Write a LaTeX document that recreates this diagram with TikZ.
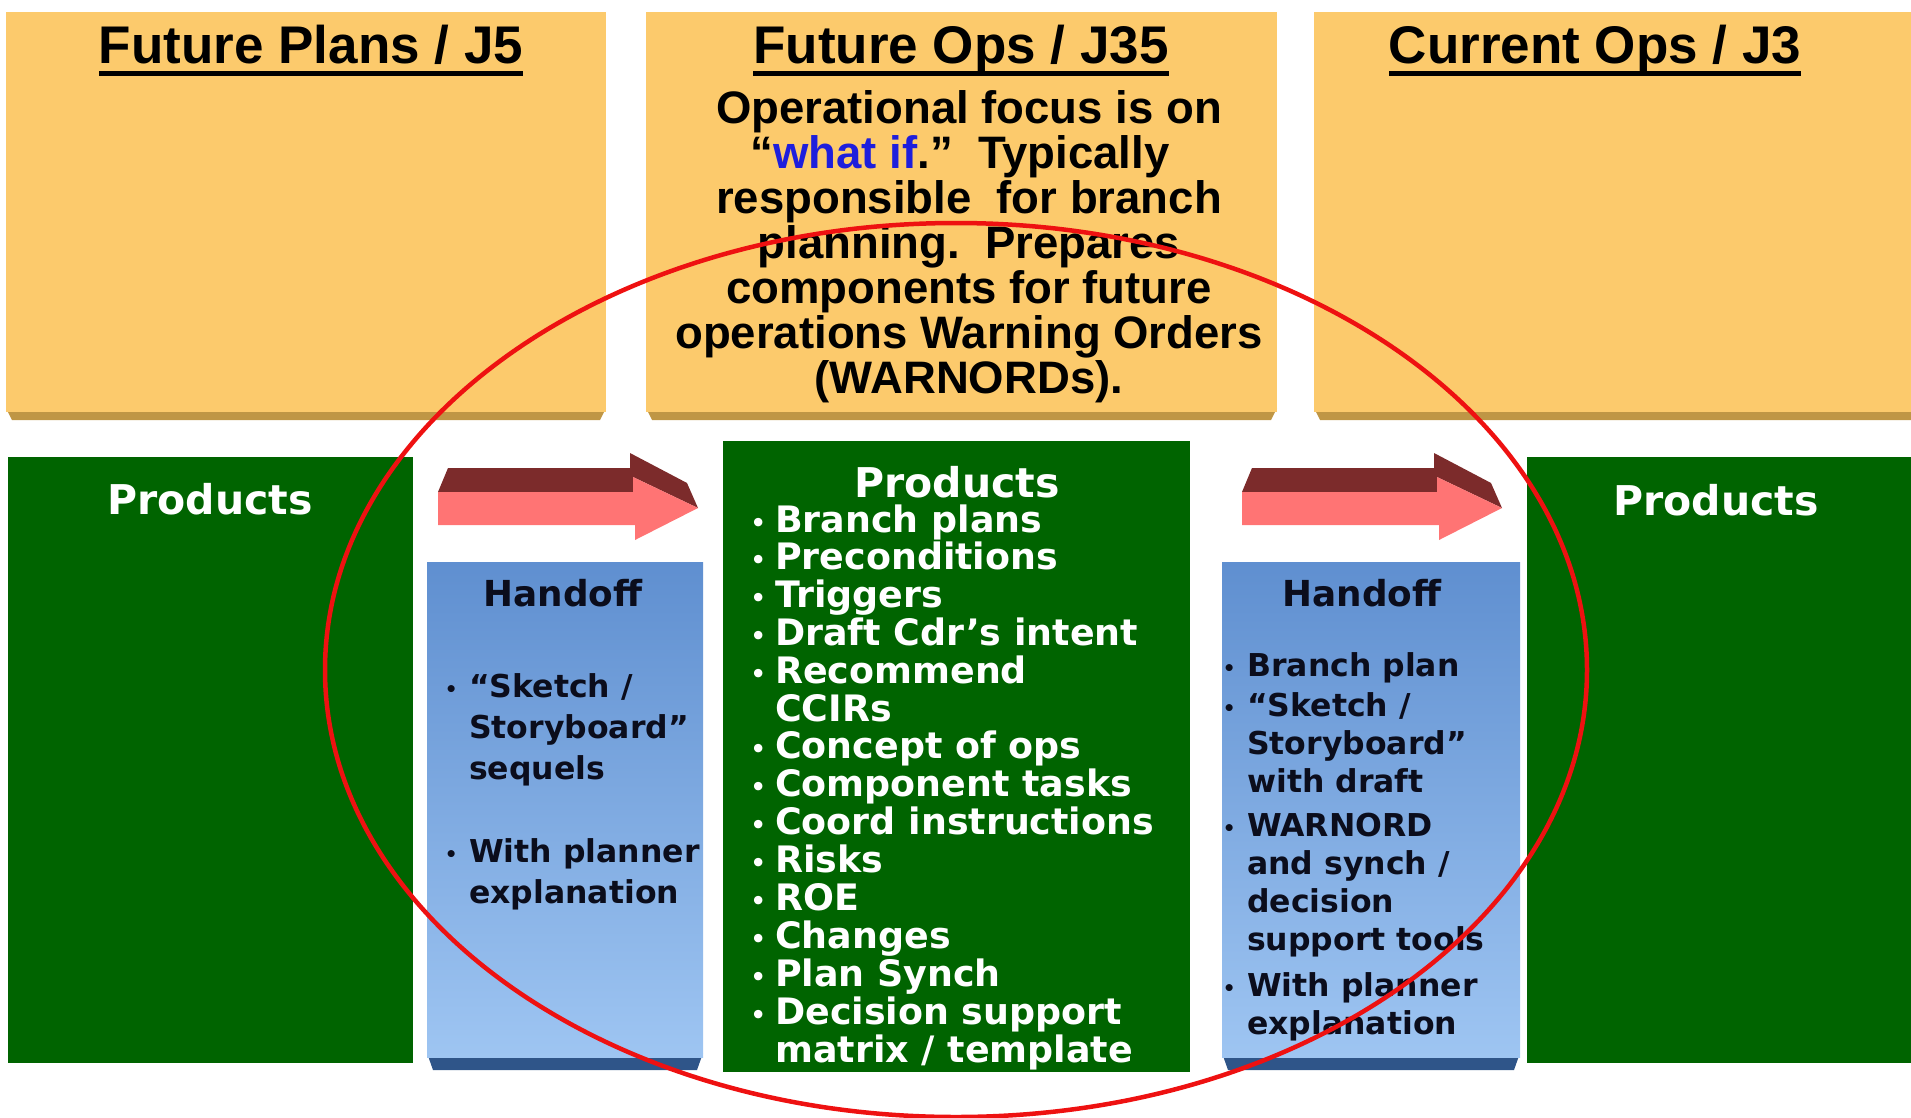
\documentclass[tikz,border=0pt]{standalone}
\usepackage{fontspec}
\setmainfont{Liberation Sans}
\newfontfamily\dvfont{DejaVu Sans}
\definecolor{ybox}{HTML}{FCCA6C}
\definecolor{ybevel}{HTML}{BF9645}
\definecolor{gbox}{HTML}{006400}
\definecolor{bbevel}{HTML}{2F5589}
\definecolor{btop}{HTML}{5F8FD0}
\definecolor{bmid}{HTML}{D3E5F8}
\definecolor{bbot}{HTML}{9EC5F2}
\definecolor{apink}{HTML}{FF7474}
\definecolor{adark}{HTML}{7C2B2B}
\definecolor{ered}{HTML}{EE1111}
\definecolor{wblue}{HTML}{1E1EDC}
\definecolor{btext}{HTML}{0B0D1C}
\newcommand\bul[3]{\llap{\makebox[0pt][c]{\fontsize{#1}{#1}\selectfont\raisebox{#3}{•}}\hspace{#2}}}
\newcommand\gb{\bul{24pt}{17pt}{1pt}}
\newcommand\hb{\bul{20pt}{18pt}{1pt}}
\begin{document}
\begin{tikzpicture}[x=1pt,y=-1pt,
  every node/.style={inner sep=0pt},
  ttl/.style={anchor=base,font=\fontsize{53pt}{60pt}\selectfont\bfseries},
  bod/.style={anchor=base,font=\fontsize{45.5pt}{45pt}\selectfont\bfseries},
  ghd/.style={anchor=base,text=white,font=\dvfont\bfseries\fontsize{41pt}{41pt}\selectfont},
  gli/.style={anchor=base west,text=white,font=\dvfont\bfseries\fontsize{36.4pt}{38pt}\selectfont},
  hhd/.style={anchor=base,text=btext,font=\dvfont\bfseries\fontsize{35.8pt}{36pt}\selectfont},
  bli/.style={anchor=base west,text=btext,font=\dvfont\bfseries\fontsize{31.5pt}{36pt}\selectfont},
  ybx/.style={fill=ybox},
  ybv/.style={fill=ybevel},
  gbx/.style={fill=gbox},
  bbx/.style={top color=btop,middle color=bmid,bottom color=bbot},
  bbv/.style={fill=bbevel},
  frontface/.style={fill=apink},
  topface/.style={fill=adark}]
\useasboundingbox (0,0) rectangle (1911,1117);
% yellow boxes
\fill[ybv] (6,408) -- (606,408) -- (600,420) -- (12,420) -- cycle;
\fill[ybx] (6,12) rectangle (606,412);
\fill[ybv] (646,408) -- (1277,408) -- (1271,420) -- (652,420) -- cycle;
\fill[ybx] (646,12) rectangle (1277,412);
\fill[ybv] (1314,408) -- (1911,408) -- (1911,420) -- (1320,420) -- cycle;
\fill[ybx] (1314,12) rectangle (1911,412);
% green boxes
\fill[gbx] (8,457) rectangle (413,1063);
\fill[gbx] (723,441) rectangle (1190,1072);
\fill[gbx] (1527,457) rectangle (1911,1063);
% blue boxes
\fill[bbv] (427,1053) -- (703,1053) -- (697,1070) -- (433,1070) -- cycle;
\shade[bbx] (427,562) rectangle (703,1057);
\fill[bbv] (1222,1053) -- (1520,1053) -- (1514,1070) -- (1228,1070) -- cycle;
\shade[bbx] (1222,562) rectangle (1520,1057);
% arrows
\foreach \dx in {0,804}{
  \begin{scope}[xshift=\dx pt]
  \fill[topface] (438,492) -- (448,468) -- (630,468) -- (630,453) -- (687,483) -- (698,508) -- (633,477) -- (633,492) -- cycle;
  \fill[frontface] (438,492) -- (633,492) -- (633,477) -- (698,508) -- (635,540) -- (635,525) -- (438,525) -- cycle;
  \end{scope}
}
% titles
\node[ttl] (t1) at (311,63) {Future Plans / J5};
\node[ttl] (t2) at (961,63) {Future Ops / J35};
\node[ttl] (t3) at (1595,63) {Current Ops / J3};
\foreach \t in {t1,t2,t3}{
  \fill ([yshift=-8pt]\t.base west) rectangle ([yshift=-12.5pt]\t.base east);
}
% future ops body
\node[bod] (b1) at (969,123) {Operational focus is on};
\node[bod] (b2) at (960,168) {“\textcolor{wblue}{what if}.”\ \ Typically};
\node[bod] (b3) at (969,213) {responsible\ \ for branch};
\node[bod] (b4) at (969,258) {planning.\ \ Prepares};
\node[bod] (b5) at (969,303) {components for future};
\node[bod] (b6) at (969,348) {operations Warning Orders};
\node[bod] (b7) at (969,393) {(WARNORDs).};
% products headings
\node[ghd] (p1) at (210,514) {Products};
\node[ghd] (p2) at (957,497) {Products};
\node[ghd] (p3) at (1716,515) {Products};
% center list
\node[gli] (c1) at (775,532) {\gb Branch plans};
\node[gli] (c2) at (775,569) {\gb Preconditions};
\node[gli] (c3) at (775,607) {\gb Triggers};
\node[gli] (c4) at (775,645) {\gb Draft Cdr’s intent};
\node[gli] (c5) at (775,683) {\gb Recommend};
\node[gli] (c5b) at (775,721) {CCIRs};
\node[gli] (c6) at (775,758) {\gb Concept of ops};
\node[gli] (c7) at (775,796) {\gb Component tasks};
\node[gli] (c8) at (775,834) {\gb Coord instructions};
\node[gli] (c9) at (775,872) {\gb Risks};
\node[gli] (c10) at (775,910) {\gb ROE};
\node[gli] (c11) at (775,948) {\gb Changes};
\node[gli] (c12) at (775,986) {\gb Plan Synch};
\node[gli] (c13) at (775,1024) {\gb Decision support};
\node[gli] (c13b) at (775,1062) {matrix / template};
% handoff headings
\node[hhd] (h1) at (563,606) {Handoff};
\node[hhd] (h2) at (1362,606) {Handoff};
% left handoff list
\node[bli] (l1) at (469,697) {\hb “Sketch /};
\node[bli] (l1b) at (469,738) {Storyboard”};
\node[bli] (l1c) at (469,779) {sequels};
\node[bli] (l2) at (469,862) {\hb With planner};
\node[bli] (l2b) at (469,903) {explanation};
% right handoff list
\node[bli] (r1) at (1247,676) {\hb Branch plan};
\node[bli] (r2) at (1247,716) {\hb “Sketch /};
\node[bli] (r2b) at (1247,754) {Storyboard”};
\node[bli] (r2c) at (1247,792) {with draft};
\node[bli] (r3) at (1247,836) {\hb WARNORD};
\node[bli] (r3b) at (1247,874) {and synch /};
\node[bli] (r3c) at (1247,912) {decision};
\node[bli] (r3d) at (1247,950) {support tools};
\node[bli] (r4) at (1247,996) {\hb With planner};
\node[bli] (r4b) at (1247,1034) {explanation};
% red ellipse
\draw[ered,line width=4.5pt] (956,670) ellipse [x radius=631pt,y radius=447pt];
\end{tikzpicture}
\end{document}
